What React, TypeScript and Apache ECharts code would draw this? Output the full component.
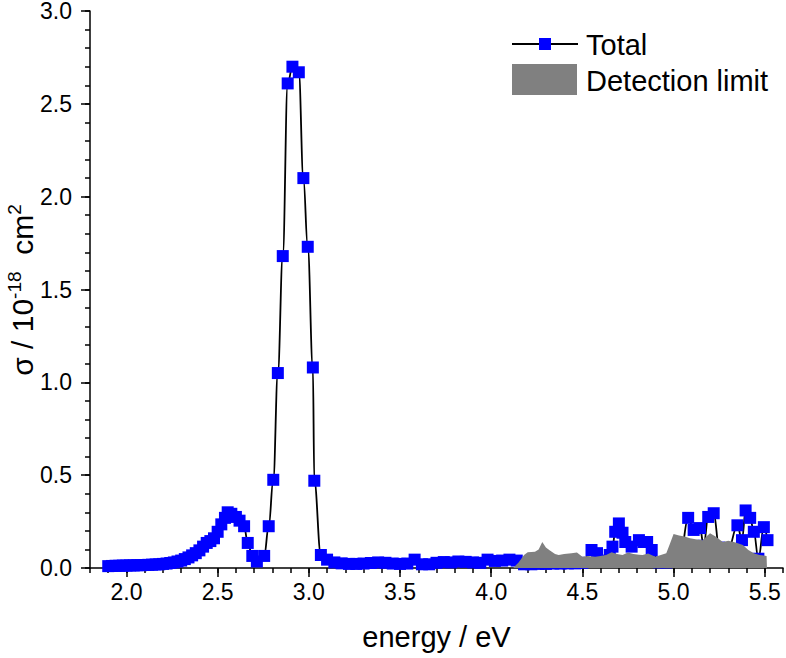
import React, { useEffect, useRef } from "react";
import * as echarts from "echarts";

const FONT = "'Liberation Sans', Arial, sans-serif";

// Total cross-section (energy eV, sigma 1e-18 cm2)
const totalEnergy = [
  1.90, 1.92, 1.94, 1.96, 1.98, 2.00, 2.02, 2.04, 2.06, 2.08, 2.10, 2.12, 2.14, 2.16, 2.18,
  2.20, 2.22, 2.24, 2.26, 2.28, 2.30, 2.32, 2.34, 2.36, 2.38, 2.40, 2.42, 2.44, 2.46, 2.48,
  2.50, 2.52, 2.54, 2.555, 2.575, 2.60, 2.62, 2.645, 2.665, 2.69, 2.715, 2.755, 2.78, 2.805,
  2.83, 2.857, 2.884, 2.91, 2.945, 2.97, 2.994, 3.022, 3.03, 3.066, 3.10, 3.14, 3.18, 3.22,
  3.26, 3.30, 3.34, 3.38, 3.42, 3.46, 3.50, 3.54, 3.58, 3.62, 3.66, 3.70, 3.74, 3.78, 3.82,
  3.86, 3.90, 3.94, 3.98, 4.02, 4.06, 4.10, 4.14, 4.18, 4.22, 4.26, 4.30, 4.34, 4.38, 4.42,
  4.46, 4.50, 4.55, 4.58, 4.62, 4.65, 4.665, 4.68, 4.70, 4.72, 4.735, 4.77, 4.81, 4.835,
  4.855, 4.88, 4.92, 4.96, 5.00, 5.04, 5.08, 5.11, 5.145, 5.165, 5.19, 5.22, 5.25, 5.30,
  5.35, 5.375, 5.395, 5.42, 5.44, 5.465, 5.495, 5.515,
];
const totalSigma = [
  0.010, 0.011, 0.012, 0.012, 0.013, 0.013, 0.014, 0.014, 0.015, 0.015, 0.016, 0.017, 0.018, 0.019, 0.020,
  0.022, 0.024, 0.027, 0.030, 0.035, 0.040, 0.048, 0.057, 0.068, 0.080, 0.095, 0.115, 0.135, 0.145, 0.160,
  0.195, 0.235, 0.270, 0.300, 0.292, 0.275, 0.255, 0.225, 0.135, 0.065, 0.035, 0.065, 0.225, 0.475,
  1.05, 1.68, 2.61, 2.70, 2.67, 2.10, 1.73, 1.08, 0.47, 0.07, 0.045, 0.030, 0.025, 0.022,
  0.022, 0.024, 0.027, 0.030, 0.028, 0.024, 0.022, 0.024, 0.045, 0.020, 0.020, 0.028, 0.032, 0.030, 0.035,
  0.033, 0.030, 0.028, 0.045, 0.038, 0.040, 0.045, 0.040, 0.020, 0.020, 0.022, 0.022, 0.024, 0.024, 0.025,
  0.025, 0.028, 0.097, 0.080, 0.040, 0.070, 0.115, 0.195, 0.240, 0.190, 0.140, 0.115, 0.150, 0.140,
  0.140, 0.097, 0.030, 0.030, 0.050, 0.090, 0.270, 0.205, 0.215, 0.120, 0.275, 0.295, 0.110, 0.100,
  0.230, 0.150, 0.310, 0.270, 0.195, 0.050, 0.220, 0.150,
];

// Detection limit (shaded area)
const limitEnergy = [
  4.12, 4.15, 4.18, 4.20, 4.24, 4.26, 4.28, 4.30, 4.32, 4.35, 4.37, 4.40, 4.44, 4.47, 4.50,
  4.53, 4.57, 4.60, 4.63, 4.66, 4.69, 4.72, 4.75, 4.78, 4.81, 4.83, 4.86, 4.90, 4.93, 4.96,
  4.98, 5.00, 5.03, 5.06, 5.09, 5.12, 5.16, 5.18, 5.20, 5.23, 5.27, 5.30, 5.34, 5.38, 5.41,
  5.44, 5.47, 5.51, 5.512,
];
const limitSigma = [
  0.000, 0.030, 0.070, 0.085, 0.088, 0.100, 0.140, 0.110, 0.095, 0.075, 0.070, 0.075, 0.080, 0.083, 0.060,
  0.065, 0.060, 0.065, 0.070, 0.085, 0.075, 0.070, 0.083, 0.075, 0.072, 0.070, 0.078, 0.060, 0.070, 0.080,
  0.130, 0.183, 0.175, 0.170, 0.160, 0.155, 0.150, 0.170, 0.187, 0.170, 0.140, 0.147, 0.137, 0.124, 0.097,
  0.080, 0.070, 0.065, 0.000,
];

const xMajorTicks = [2.0, 2.5, 3.0, 3.5, 4.0, 4.5, 5.0, 5.5];

const legendNames = ["Total", "Detection limit"];

export default function App() {
  const ref = useRef<HTMLDivElement>(null);
  useEffect(() => {
    document.body.style.margin = "0";
    if (!ref.current) return;
    const chart = echarts.init(ref.current, undefined, { renderer: "svg" });
    const totalData = totalEnergy.map((x, i) => [x, totalSigma[i]]);
    const limitData = limitEnergy.map((x, i) => [x, limitSigma[i]]);
    const axisLine = { lineStyle: { color: "#000", width: 1.5 } };
    const tickStyle = { color: "#000", width: 1.5 };
    chart.setOption({
      animation: false,
      backgroundColor: "#fff",
      textStyle: { fontFamily: FONT },
      grid: { left: 90, right: 3, top: 11, bottom: 90, containLabel: false, outerBoundsMode: "none" },
      xAxis: [
        {
          type: "value",
          min: 1.8,
          max: 5.6,
          axisLine,
          axisTick: { show: true, length: 9, lineStyle: tickStyle, customValues: xMajorTicks },
          axisLabel: {
            customValues: xMajorTicks,
            formatter: (v: number) => v.toFixed(1),
            fontSize: 23,
            color: "#000",
            fontFamily: FONT,
            margin: 12,
          },
          splitLine: { show: false },
          name: "energy / eV",
          nameLocation: "middle",
          nameGap: 54,
          nameMoveOverlap: false,
          nameTextStyle: { fontSize: 29, color: "#000", fontFamily: FONT },
        },
        {
          type: "value",
          min: 1.8,
          max: 5.6,
          interval: 0.1,
          position: "bottom",
          axisLine: { show: false },
          axisTick: { show: true, length: 5, lineStyle: tickStyle },
          axisLabel: { show: false },
          splitLine: { show: false },
        },
      ],
      yAxis: [
        {
          type: "value",
          min: 0,
          max: 3,
          interval: 0.5,
          axisLine: { show: true, ...axisLine },
          axisTick: { show: true, length: 9, lineStyle: tickStyle },
          axisLabel: {
            formatter: (v: number) => v.toFixed(1),
            fontSize: 23,
            color: "#000",
            fontFamily: FONT,
            margin: 18,
          },
          splitLine: { show: false },
        },
        {
          type: "value",
          min: 0,
          max: 3,
          interval: 0.1,
          position: "left",
          axisLine: { show: false },
          axisTick: { show: true, length: 5, lineStyle: tickStyle },
          axisLabel: { show: false },
          splitLine: { show: false },
        },
      ],
      series: [
        {
          name: legendNames[0],
          type: "line",
          data: totalData,
          smooth: 0.4,
          smoothMonotone: "x",
          symbol: "rect",
          symbolSize: 12,
          showAllSymbol: true,
          lineStyle: { color: "#000", width: 1.8 },
          itemStyle: { color: "#0000ff", borderWidth: 0 },
          z: 2,
        },
        {
          name: legendNames[1],
          type: "line",
          data: limitData,
          symbol: "none",
          lineStyle: { width: 0, color: "#808080" },
          itemStyle: { color: "#808080" },
          areaStyle: { color: "#808080", opacity: 1 },
          z: 5,
        },
      ],
      graphic: [
        {
          type: "text",
          x: 22,
          y: 290,
          rotation: Math.PI / 2,
          style: {
            text: "σ / 10{sup|-18}  cm{sup|2}",
            fontSize: 30,
            fontFamily: FONT,
            fill: "#000",
            align: "center",
            verticalAlign: "middle",
            lineHeight: 34,
            rich: {
              sup: { fontSize: 19, verticalAlign: "top", lineHeight: 24, fill: "#000", fontFamily: FONT },
            },
          },
        },
        { type: "line", shape: { x1: 512, y1: 44, x2: 578, y2: 44 }, style: { stroke: "#000", lineWidth: 1.8 } },
        { type: "rect", shape: { x: 539, y: 38, width: 12, height: 12 }, style: { fill: "#0000ff" } },
        {
          type: "text",
          x: 586,
          y: 45,
          style: { text: legendNames[0], fontSize: 29, fontFamily: FONT, fill: "#000", verticalAlign: "middle" },
        },
        { type: "rect", shape: { x: 512, y: 64, width: 65, height: 31 }, style: { fill: "#808080" } },
        {
          type: "text",
          x: 586,
          y: 81,
          style: { text: legendNames[1], fontSize: 29, fontFamily: FONT, fill: "#000", verticalAlign: "middle" },
        },
      ],
    });
    return () => chart.dispose();
  }, []);
  return <div ref={ref} style={{ width: 786, height: 658 }} />;
}
